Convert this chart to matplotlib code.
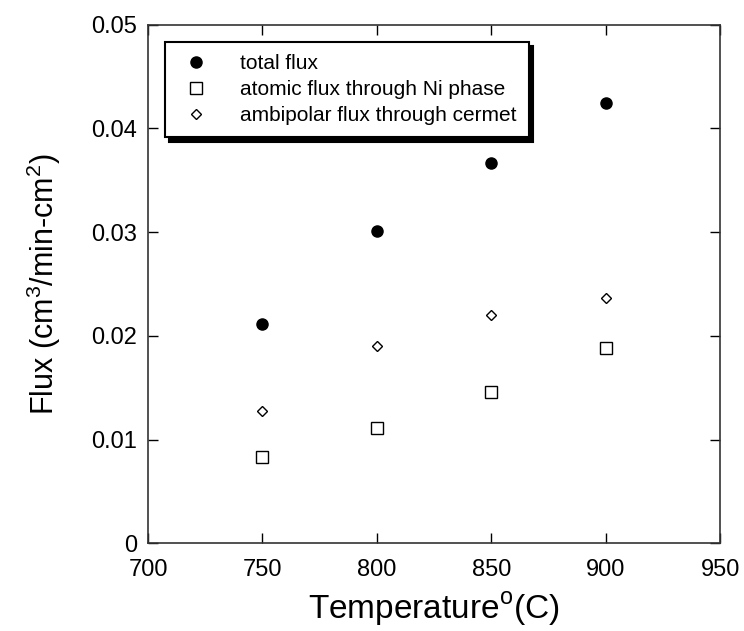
import matplotlib
matplotlib.use("Agg")
import matplotlib.pyplot as plt

plt.rcParams['font.family'] = ['Liberation Sans', 'DejaVu Sans']
plt.rcParams['mathtext.fontset'] = 'custom'
plt.rcParams['mathtext.rm'] = 'Liberation Sans'

temperature = [750, 800, 850, 900]
total_flux = [0.0211, 0.0301, 0.0367, 0.0424]
atomic_flux = [0.0083, 0.0111, 0.0146, 0.0188]
ambipolar_flux = [0.0128, 0.0190, 0.0220, 0.0236]

fig = plt.figure(figsize=(7.44, 6.31), dpi=100)
ax = fig.add_axes([0.199, 0.139, 0.769, 0.822])

ax.plot(temperature, total_flux, 'o', color='black', markersize=8, label='total flux')
ax.plot(temperature, atomic_flux, 's', mfc='white', mec='black', mew=1.0,
        markersize=8, label='atomic flux through Ni phase')
ax.plot(temperature, ambipolar_flux, 'D', mfc='white', mec='black', mew=1.0,
        markersize=5.5, label='ambipolar flux through cermet')

ax.set_xlim(700, 950)
ax.set_ylim(0, 0.05)
ax.set_xticks([700, 750, 800, 850, 900, 950])
ax.set_yticks([0, 0.01, 0.02, 0.03, 0.04, 0.05])
ax.set_yticklabels(['0', '0.01', '0.02', '0.03', '0.04', '0.05'])
ax.tick_params(direction='in', top=True, right=True, length=7, width=1,
               labelsize=17)
ax.tick_params(axis='x', pad=11)
ax.tick_params(axis='y', pad=8)
for s in ax.spines.values():
    s.set_linewidth(1.2)
    s.set_color('#333333')

ax.set_xlabel('Temperature$^{\\mathrm{o}}$(C)', fontsize=24, labelpad=7)
ax.set_ylabel('Flux (cm$^{3}$/min-cm$^{2}$)', fontsize=22, labelpad=20)

leg = ax.legend(loc='upper left', bbox_to_anchor=(0.03, 0.967), borderaxespad=0,
                fontsize=15, fancybox=False, edgecolor='black', framealpha=1,
                shadow={'color': 'black', 'alpha': 1, 'ox': 3, 'oy': -3},
                handletextpad=1.2, borderpad=0.6, labelspacing=0.33,
                handlelength=1.8)
leg.get_frame().set_linewidth(1.5)

fig.savefig('out.png', dpi=100)
